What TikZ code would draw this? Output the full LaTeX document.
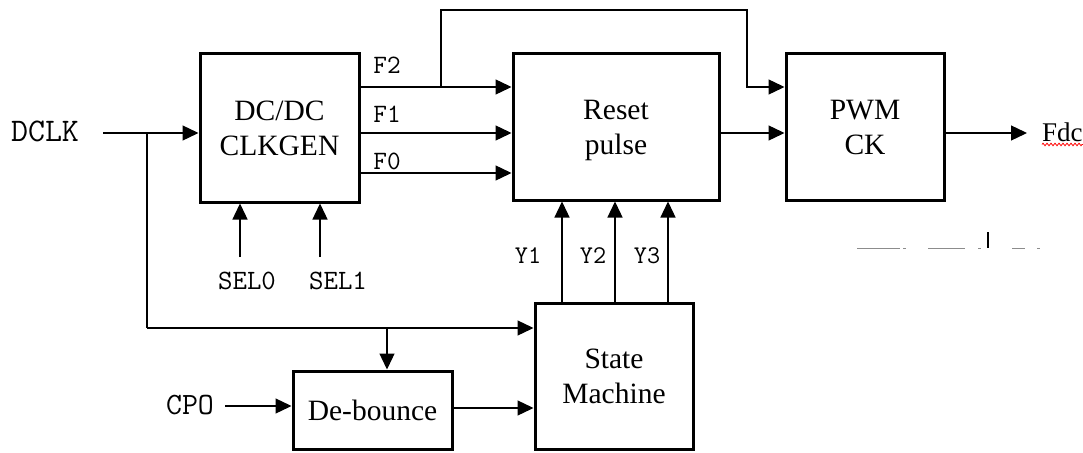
\documentclass[tikz,border=0pt]{standalone}
\usepackage{fontspec}
\setmainfont{Liberation Serif}
\usetikzlibrary{arrows.meta,decorations.pathmorphing}
\begin{document}
\begin{tikzpicture}[x=1pt,y=-1pt,
  blk/.style={draw, line width=3pt, inner sep=0pt, align=center, font=\fontsize{29.5}{35}\selectfont},
  conn/.style={line width=1.3pt},
  arr/.style={conn, -{Triangle[length=16pt,width=15pt]}},
  sig/.style={font=\ttfamily\fontsize{#1}{#1}\selectfont, inner sep=0pt},
  stray/.style={draw=black!45, line width=1pt},
]
\useasboundingbox (0,0) rectangle (1083,452);

% blocks
\node[blk, minimum width=159pt, minimum height=148pt] (clk) at (279.5,128) {DC/DC\\CLKGEN};
\node[blk, minimum width=206pt, minimum height=146pt] (rst) at (616,127) {Reset\\\raisebox{0pt}[\height][0pt]{pulse}};
\node[blk, minimum width=158pt, minimum height=146pt] (pwm) at (865,127) {PWM\\CK};
\node[blk, minimum width=158pt, minimum height=146pt] (sm) at (614,376) {State\\Machine};
\node[blk, minimum width=159pt, minimum height=78pt] (db) at (372.5,410) {De-bounce};

% signal labels
\node[sig=33] (dclk) at (45,131) {DCLK};
\node[sig=31] (cpo) at (190,405) {CPO};
\node[sig=28] (sel0) at (247,281) {SEL0};
\node[sig=28] (sel1) at (338,281) {SEL1};
\node[sig=26.5] (f2) at (387,65) {F2};
\node[sig=26.5] (f1) at (387,114) {F1};
\node[sig=26.5] (f0) at (387,161) {F0};
\node[sig=25.5] (y1) at (528,256) {Y1};
\node[sig=25.5] (y2) at (593,256) {Y2};
\node[sig=25.5] (y3) at (647,256) {Y3};
\node[font=\fontsize{27}{27}\selectfont, inner sep=0pt, anchor=base west] (fdc) at (1042,141) {Fdc};
\draw[red, line width=0.8pt, decorate, decoration={zigzag, amplitude=1.3pt, segment length=4pt}]
  (fdc.south west) ++(0,3) coordinate (wavyS) -- (wavyS -| fdc.south east);

% helper coordinates
\coordinate (yF2) at (0,87);
\coordinate (yF1) at (0,133);
\coordinate (yF0) at (0,173);
\coordinate (yDB) at (0,408);
\coordinate (dclkS) at (103,133);
\coordinate (jD) at (147,133);
\coordinate (jDb) at (147,328);
\coordinate (jDd) at (387,328);
\coordinate (cpoS) at (225,406);
\coordinate (jF2) at (441,87);
\coordinate (topL) at (441,10);
\coordinate (topR) at (747,10);
\coordinate (fdcE) at (1027,133);
\coordinate (sel0S) at (240,257);
\coordinate (sel1S) at (320,257);
\coordinate (xY1) at (562,0);
\coordinate (xY2) at (615,0);
\coordinate (xY3) at (668,0);

% connectors
\draw[arr] (dclkS) -- (clk.west |- dclkS);
\draw[conn] (jD) -- (jDb);
\draw[arr] (jDb) -- (sm.west |- jDb);
\draw[arr] (jDd) -- (db.north -| jDd);
\draw[arr] (cpoS) -- (db.west |- cpoS);
\draw[arr] (db.east |- yDB) -- (sm.west |- yDB);

\draw[arr] (clk.east |- yF2) -- (rst.west |- yF2);
\draw[arr] (clk.east |- yF1) -- (rst.west |- yF1);
\draw[arr] (clk.east |- yF0) -- (rst.west |- yF0);
\draw[arr] (jF2) -- (topL) -- (topR) -- (topR |- yF2) -- (pwm.west |- yF2);
\draw[arr] (rst.east |- yF1) -- (pwm.west |- yF1);
\draw[arr] (pwm.east |- yF1) -- (fdcE);

\draw[arr] (sel0S) -- (clk.south -| sel0S);
\draw[arr] (sel1S) -- (clk.south -| sel1S);

\draw[arr] (sm.north -| xY1) -- (rst.south -| xY1);
\draw[arr] (sm.north -| xY2) -- (rst.south -| xY2);
\draw[arr] (sm.north -| xY3) -- (rst.south -| xY3);

% clipped text fragments at right
\draw[stray] (857,248) -- (900,248);
\draw[stray] (903,248) -- (906,248);
\draw[stray] (928,248) -- (965,248);
\draw[stray] (978,248) -- (981,248);
\draw[draw=black, line width=1.2pt] (988,232) -- (988,248);
\draw[stray] (1012,248) -- (1025,248);
\draw[stray] (1037,248) -- (1040,248);
\end{tikzpicture}
\end{document}
